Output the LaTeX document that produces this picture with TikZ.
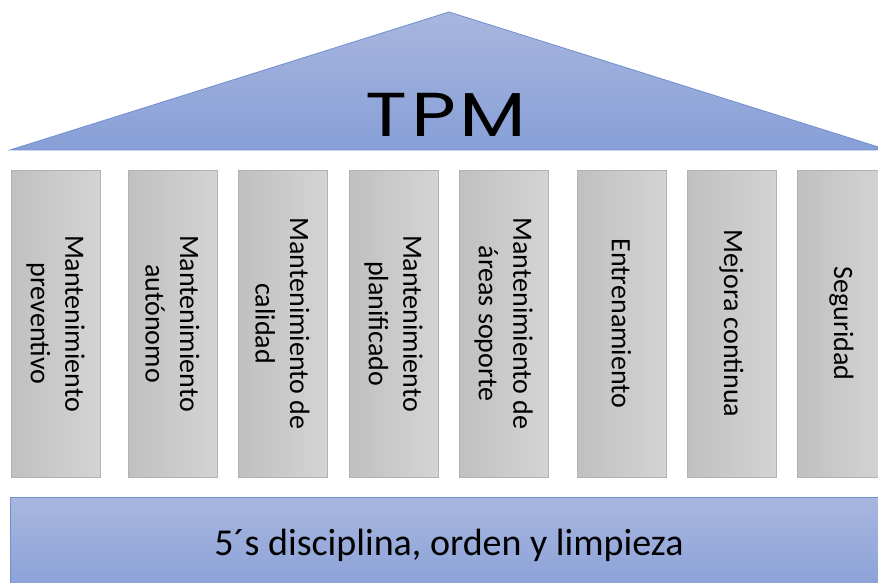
\documentclass[tikz,border=0pt]{standalone}
\usepackage{fontspec}
\setmainfont{Carlito}
\newfontfamily\roofFont{Poppins}
\definecolor{roofTop}{RGB}{168,182,223}
\definecolor{roofBot}{RGB}{135,159,215}
\definecolor{roofLine}{RGB}{112,143,207}
\definecolor{pilLeft}{RGB}{192,192,192}
\definecolor{pilRight}{RGB}{212,212,212}
\definecolor{pilLine}{RGB}{178,178,178}
\tikzset{
  pillar/.style={rotate=-90, draw=pilLine, line width=0.6pt,
    left color=pilLeft, right color=pilRight,
    minimum width=307pt, minimum height=89pt, inner sep=0pt,
    align=center, font=\fontsize{28}{34.5}\selectfont, text=black},
}
\begin{document}
\begin{tikzpicture}[x=1pt,y=-1pt]
\clip (0,0) rectangle (878,583);
\fill[white] (0,0) rectangle (878,583);
% roof
\shade[top color=roofTop, bottom color=roofBot, draw=roofLine, line width=0.8pt]
  (10,150) -- (449,12) -- (888,150) -- cycle;
\node[anchor=base, font=\fontsize{62}{72}\roofFont, text=black, inner sep=0pt, xscale=1.25] (tpm) at (446,137) {T\kern3pt P\kern3pt M};
% pillars
\node[pillar] (p1) at (55.5,323.5) {Mantenimiento\\preventivo};
\node[pillar] (p2) at (172.5,323.5) {Mantenimiento\\autónomo};
\node[pillar] (p3) at (282.5,323.5) {Mantenimiento de\\calidad};
\node[pillar] (p4) at (393.5,323.5) {Mantenimiento\\planificado};
\node[pillar] (p5) at (503.5,323.5) {Mantenimiento de\\áreas soporte};
\node[pillar] (p6) at (621.5,323.5) {Entrenamiento};
\node[pillar] (p7) at (731.5,323.5) {Mejora continua};
\node[pillar] (p8) at (841.5,323.5) {Seguridad};
% base
\shade[top color=roofTop, bottom color=roofBot, draw=roofLine, line width=0.8pt]
  (10,600) -- (10,497) -- (888,497) -- (888,600);
\node[anchor=base, font=\fontsize{38}{44}\selectfont, text=black, inner sep=0pt] (base) at (449,555) {5´s disciplina, orden y limpieza};
\end{tikzpicture}
\end{document}
